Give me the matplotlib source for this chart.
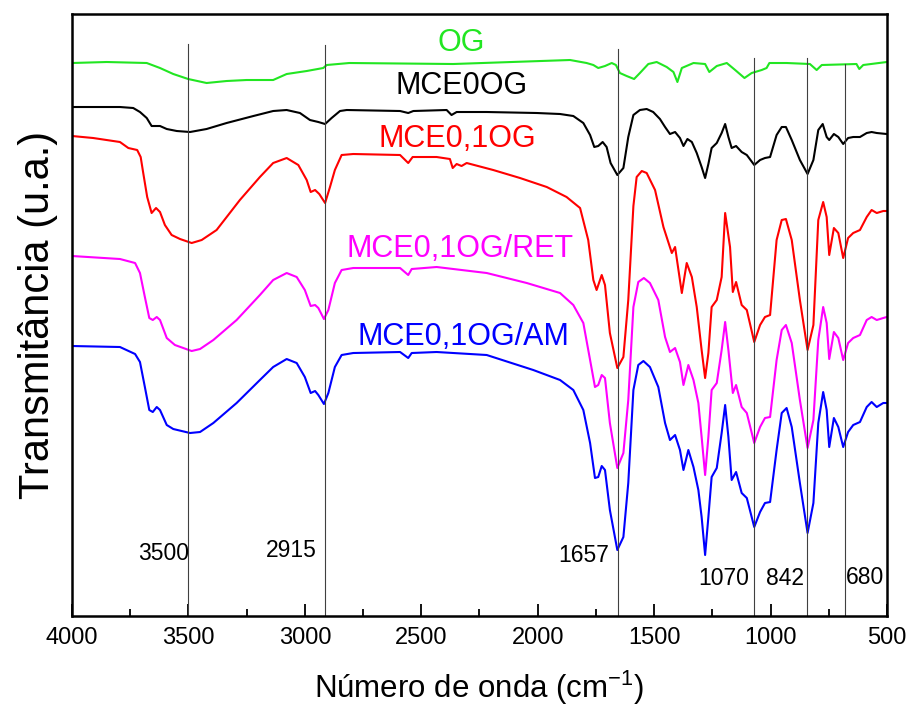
import matplotlib
matplotlib.use("Agg")
import matplotlib.pyplot as plt

plt.rcParams['font.family'] = ['Liberation Sans', 'DejaVu Sans']
plt.rcParams['mathtext.fontset'] = 'custom'
plt.rcParams['mathtext.rm'] = 'Liberation Sans'
plt.rcParams['mathtext.it'] = 'Liberation Sans'

# spectra (wavenumber in cm-1, transmittance in a.u., offset stacked)
og_wn = [4000, 3851, 3679, 3622, 3565, 3501, 3422, 3336, 3250, 3136, 3078, 2992, 2921, 2906,
         2809, 2363, 1861, 1790, 1761, 1740, 1711, 1682, 1664, 1647, 1618, 1586, 1561, 1525,
         1489, 1446, 1417, 1400, 1381, 1331, 1281, 1263, 1231, 1188, 1152, 1112, 1081, 1038,
         1017, 1005, 931, 831, 802, 780, 631, 619, 602, 501]
og_t = [553, 554, 553, 548, 542, 537, 533, 535, 536, 536, 542, 545, 548, 551,
        553, 552, 556, 553, 551, 548, 550, 553, 551, 543, 540, 537, 543, 552,
        554, 549, 544, 534, 548, 553, 552, 544, 550, 553, 546, 538, 543, 546,
        548, 553, 553, 552, 546, 551, 552, 547, 551, 554]

mce0_wn = [4000, 3794, 3737, 3708, 3679, 3658, 3622, 3593, 3550, 3493, 3422, 3336, 3221, 3136,
           3078, 3021, 2978, 2942, 2913, 2885, 2849, 2820, 2591, 2556, 2534, 2391, 2370, 2348,
           2219, 2004, 1904, 1847, 1804, 1775, 1757, 1740, 1721, 1704, 1687, 1658, 1632, 1611,
           1589, 1561, 1532, 1504, 1475, 1453, 1432, 1410, 1389, 1374, 1357, 1338, 1317, 1296,
           1281, 1267, 1253, 1231, 1210, 1195, 1181, 1167, 1148, 1124, 1102, 1070, 1045, 1024,
           1002, 974, 952, 934, 909, 874, 841, 816, 795, 776, 759, 748, 728, 709, 688, 667, 645,
           616, 587, 566, 544, 501]
mce0_t = [509, 509, 508, 504, 498, 490, 490, 487, 485, 484, 487, 493, 500, 505,
          506, 503, 496, 494, 492, 498, 505, 506, 505, 503, 505, 506, 501, 504,
          504, 503, 502, 500, 493, 481, 469, 470, 474, 469, 453, 441, 448, 479,
          501, 506, 507, 504, 497, 489, 482, 484, 478, 470, 477, 474, 463, 449,
          438, 452, 468, 473, 483, 492, 479, 468, 470, 464, 461, 451, 456, 458,
          459, 481, 489, 489, 476, 456, 442, 456, 486, 492, 479, 476, 482, 479, 472, 478, 479,
          479, 483, 484, 483, 482]

mce01_wn = [4000, 3909, 3794, 3758, 3720, 3705, 3694, 3677, 3658, 3639, 3622, 3601, 3572, 3536,
            3486, 3443, 3379, 3279, 3193, 3136, 3078, 3028, 2992, 2975, 2956, 2938, 2913, 2892,
            2871, 2842, 2792, 2591, 2556, 2537, 2434, 2377, 2365, 2348, 2327, 2305, 2191, 2076,
            1961, 1876, 1818, 1783, 1761, 1747, 1725, 1711, 1690, 1658, 1632, 1611, 1589, 1575,
            1553, 1532, 1496, 1460, 1424, 1410, 1381, 1360, 1338, 1317, 1296, 1281, 1267, 1253,
            1231, 1210, 1195, 1174, 1162, 1148, 1124, 1102, 1070, 1045, 1024, 1002, 974, 952,
            934, 909, 874, 841, 816, 795, 774, 759, 748, 728, 709, 688, 667, 645, 616, 587, 566,
            544, 516, 501]
mce01_t = [480, 478, 474, 468, 466, 459, 443, 419, 403, 408, 404, 391, 381, 377,
           373, 376, 386, 416, 439, 453, 458, 451, 436, 424, 426, 422, 413, 429,
           446, 461, 462, 461, 453, 459, 459, 457, 448, 452, 450, 453, 446, 438,
           429, 419, 408, 376, 336, 326, 341, 331, 283, 248, 259, 316, 410, 439,
           445, 443, 426, 389, 363, 369, 323, 353, 339, 309, 266, 238, 263, 309,
           316, 339, 403, 369, 324, 334, 311, 306, 274, 291, 299, 301, 376, 396,
           397, 376, 316, 266, 291, 396, 414, 399, 361, 388, 383, 358, 378, 383, 386, 399, 406,
           403, 405, 405]

ret_wn = [4000, 3794, 3729, 3708, 3687, 3668, 3653, 3636, 3622, 3593, 3558, 3522, 3486, 3450,
          3393, 3293, 3193, 3136, 3078, 3035, 3000, 2975, 2956, 2942, 2918, 2899, 2871, 2842,
          2792, 2591, 2556, 2541, 2434, 2219, 2047, 1904, 1847, 1804, 1775, 1754, 1740, 1725,
          1711, 1690, 1658, 1632, 1611, 1589, 1568, 1544, 1518, 1482, 1453, 1432, 1410, 1389,
          1374, 1353, 1331, 1310, 1296, 1281, 1267, 1253, 1231, 1210, 1195, 1181, 1162, 1148,
          1124, 1102, 1070, 1045, 1024, 1002, 974, 952, 934, 909, 874, 841, 816, 795, 774, 759,
          748, 728, 709, 688, 667, 645, 616, 587, 566, 544, 516, 501]
ret_t = [360, 357, 353, 343, 319, 298, 296, 299, 296, 278, 271, 268, 265, 267,
         276, 296, 321, 336, 343, 339, 326, 310, 311, 308, 297, 306, 333, 346,
         348, 348, 341, 347, 349, 343, 333, 323, 311, 293, 256, 229, 231, 241,
         238, 193, 148, 163, 216, 309, 334, 338, 333, 316, 279, 264, 268, 254,
         231, 251, 236, 213, 179, 141, 179, 226, 233, 266, 294, 266, 223, 231,
         209, 203, 173, 189, 198, 199, 256, 286, 291, 273, 216, 168, 196, 276, 309, 293,
         257, 284, 278, 256, 273, 278, 281, 296, 299, 296, 298, 299]

am_wn = [4000, 3794, 3729, 3708, 3687, 3668, 3653, 3636, 3622, 3593, 3565, 3529, 3493, 3450,
         3393, 3293, 3193, 3136, 3078, 3035, 3000, 2975, 2956, 2942, 2918, 2899, 2871, 2842,
         2792, 2591, 2556, 2541, 2434, 2219, 2019, 1904, 1847, 1804, 1775, 1754, 1740, 1725,
         1711, 1690, 1658, 1632, 1611, 1589, 1568, 1546, 1518, 1482, 1453, 1432, 1410, 1389,
         1374, 1353, 1331, 1310, 1296, 1281, 1267, 1253, 1231, 1210, 1195, 1181, 1167, 1148,
         1124, 1102, 1070, 1045, 1024, 1002, 974, 952, 931, 909, 874, 841, 816, 795, 774, 759,
         748, 728, 709, 688, 667, 645, 616, 587, 566, 544, 516, 501]
am_t = [270, 269, 262, 254, 229, 206, 204, 209, 206, 191, 187, 185, 183, 184,
        193, 213, 236, 249, 257, 253, 239, 223, 225, 221, 212, 223, 249, 261,
        263, 264, 258, 263, 264, 261, 246, 236, 226, 206, 173, 138, 139, 150,
        146, 106, 66, 79, 133, 226, 251, 255, 249, 229, 193, 176, 181, 166,
        146, 166, 149, 126, 99, 61, 99, 139, 148, 183, 211, 179, 136, 144,
        123, 118, 89, 104, 113, 114, 166, 203, 208, 189, 133, 83, 113, 193, 224, 206,
        169, 198, 189, 169, 184, 191, 194, 209, 214, 209, 213, 213]

spectra = [
    ('OG', og_wn, og_t, '#22e622'),
    ('MCE0OG', mce0_wn, mce0_t, 'black'),
    ('MCE0,1OG', mce01_wn, mce01_t, '#ff0000'),
    ('MCE0,1OG/RET', ret_wn, ret_t, '#ff00ff'),
    ('MCE0,1OG/AM', am_wn, am_t, '#0000ff'),
]
# where each name sits (wavenumber, a.u.)
label_pos = [(2329, 573), (2326, 530), (2345, 477), (2334, 367), (2321, 279)]

# marked bands
band_wn = [3500, 2915, 1657, 1070, 842, 680]
band_top = [0.95, 0.948, 0.942, 0.927, 0.927, 0.917]
band_text = [(3606, 63), (3060, 66), (1801, 61), (1200, 38), (938, 38), (594, 39)]

fig = plt.figure(figsize=(9.10, 7.11), dpi=100)
ax = fig.add_axes([0.0791, 0.1336, 0.8956, 0.8467])

for (name, wn, t, col), (lx, ly) in zip(spectra, label_pos):
    ax.plot(wn, t, color=col, lw=1.5, solid_joinstyle='round')
    ax.text(lx, ly, name, color=col, fontsize=22, ha='center', va='center')

for wn, top, (tx, ty) in zip(band_wn, band_top, band_text):
    ax.axvline(wn, ymin=0, ymax=top, color='0.25', lw=0.8)
    ax.text(tx, ty, str(wn), fontsize=16.5, ha='center', va='center')

ax.set_xlim(4000, 500)
ax.set_ylim(0, 602)
ax.set_xticks([4000, 3500, 3000, 2500, 2000, 1500, 1000, 500])
ax.set_xticks([3750, 3250, 2750, 2250, 1750, 1250, 750], minor=True)
ax.set_yticks([])
ax.tick_params(axis='x', which='major', direction='in', length=9, width=1.3,
               labelsize=17, pad=8, top=False)
ax.tick_params(axis='x', which='minor', direction='in', length=5, width=1.3, top=False)
for sp in ax.spines.values():
    sp.set_linewidth(1.8)

ax.set_xlabel('Número de onda (cm$^{-1}$)', fontsize=22.5, labelpad=14)
ax.set_ylabel('Transmitância (u.a.)', fontsize=30, labelpad=10)

fig.savefig('out.png', dpi=100)
